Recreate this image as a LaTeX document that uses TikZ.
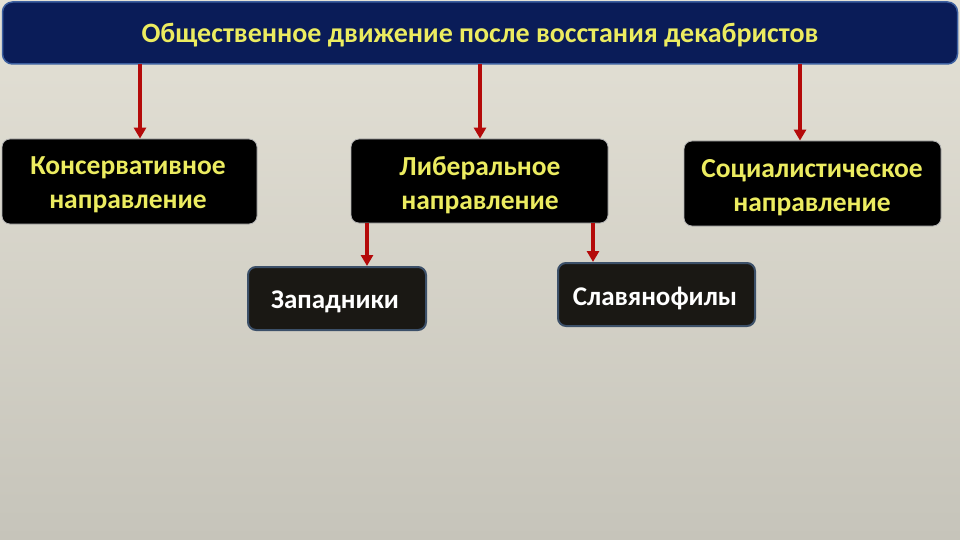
\documentclass[tikz,border=0pt]{standalone}
\usepackage{fontspec}
\setmainfont{Carlito}
\usetikzlibrary{arrows.meta}
\definecolor{bgtop}{RGB}{228,225,214}
\definecolor{bgbot}{RGB}{198,196,186}
\definecolor{navy}{RGB}{10,28,88}
\definecolor{navyedge}{RGB}{60,95,160}
\definecolor{ylw}{RGB}{236,236,96}
\definecolor{arr}{RGB}{180,10,10}
\definecolor{darkbox}{RGB}{26,24,20}
\definecolor{boxedge}{RGB}{60,80,105}
\tikzset{
  x=1pt,y=-1pt,
  blackbox/.style={draw=gray!60,line width=0.8pt,fill=black,rounded corners=8pt,inner sep=0pt},
  subbox/.style={draw=boxedge,line width=2pt,fill=darkbox,rounded corners=8pt,inner sep=0pt},
  btxt/.style={font=\bfseries\fontsize{27.5}{34}\selectfont,text=ylw,align=center},
  stxt/.style={font=\bfseries\fontsize{27}{34}\selectfont,text=white,align=center},
  redarrow/.style={draw=arr,line width=3.5pt,-{Triangle[length=11pt,width=12pt]}}
}
\begin{document}
\begin{tikzpicture}
\useasboundingbox (0,0) rectangle (960,540);
\shade[top color=bgtop,bottom color=bgbot] (0,0) rectangle (960,540);
% title
\node[draw=navyedge,line width=1.5pt,fill=navy,rounded corners=10pt,minimum width=955pt,minimum height=62pt,inner sep=0pt] (title) at (480,33) {};
\node[font=\bfseries\fontsize{28}{32}\selectfont,text=ylw] (titletext) at (480,35) {Общественное движение после восстания декабристов};
% main boxes
\node[blackbox,minimum width=255pt,minimum height=85pt] (cons) at (129.5,181.5) {};
\node[btxt] (constext) at (128,185) {Консервативное\\направление};
\node[blackbox,minimum width=257pt,minimum height=84pt] (lib) at (479.5,181) {};
\node[btxt] (libtext) at (480,185) {Либеральное\\направление};
\node[blackbox,minimum width=257pt,minimum height=85pt] (soc) at (812.5,183.5) {};
\node[btxt] (soctext) at (812,188) {Социалистическое\\направление};
% sub boxes
\node[subbox,minimum width=178pt,minimum height=63pt] (west) at (337,298.5) {};
\node[stxt] (westtext) at (335,302) {Западники};
\node[subbox,minimum width=197pt,minimum height=63pt] (slav) at (656.5,294.5) {};
\node[stxt] (slavtext) at (655,298) {Славянофилы};
% arrows
\coordinate (a1) at (140,64);
\coordinate (a2) at (480,64);
\coordinate (a3) at (800,64);
\draw[redarrow] (a1) -- (a1 |- cons.north);
\draw[redarrow] (a2) -- (a2 |- lib.north);
\draw[redarrow] (a3) -- (a3 |- soc.north);
\coordinate (b1) at (367,223);
\coordinate (b2) at (593,223);
\draw[redarrow] (b1) -- (b1 |- west.north);
\draw[redarrow] (b2) -- (b2 |- slav.north);
\end{tikzpicture}
\end{document}
